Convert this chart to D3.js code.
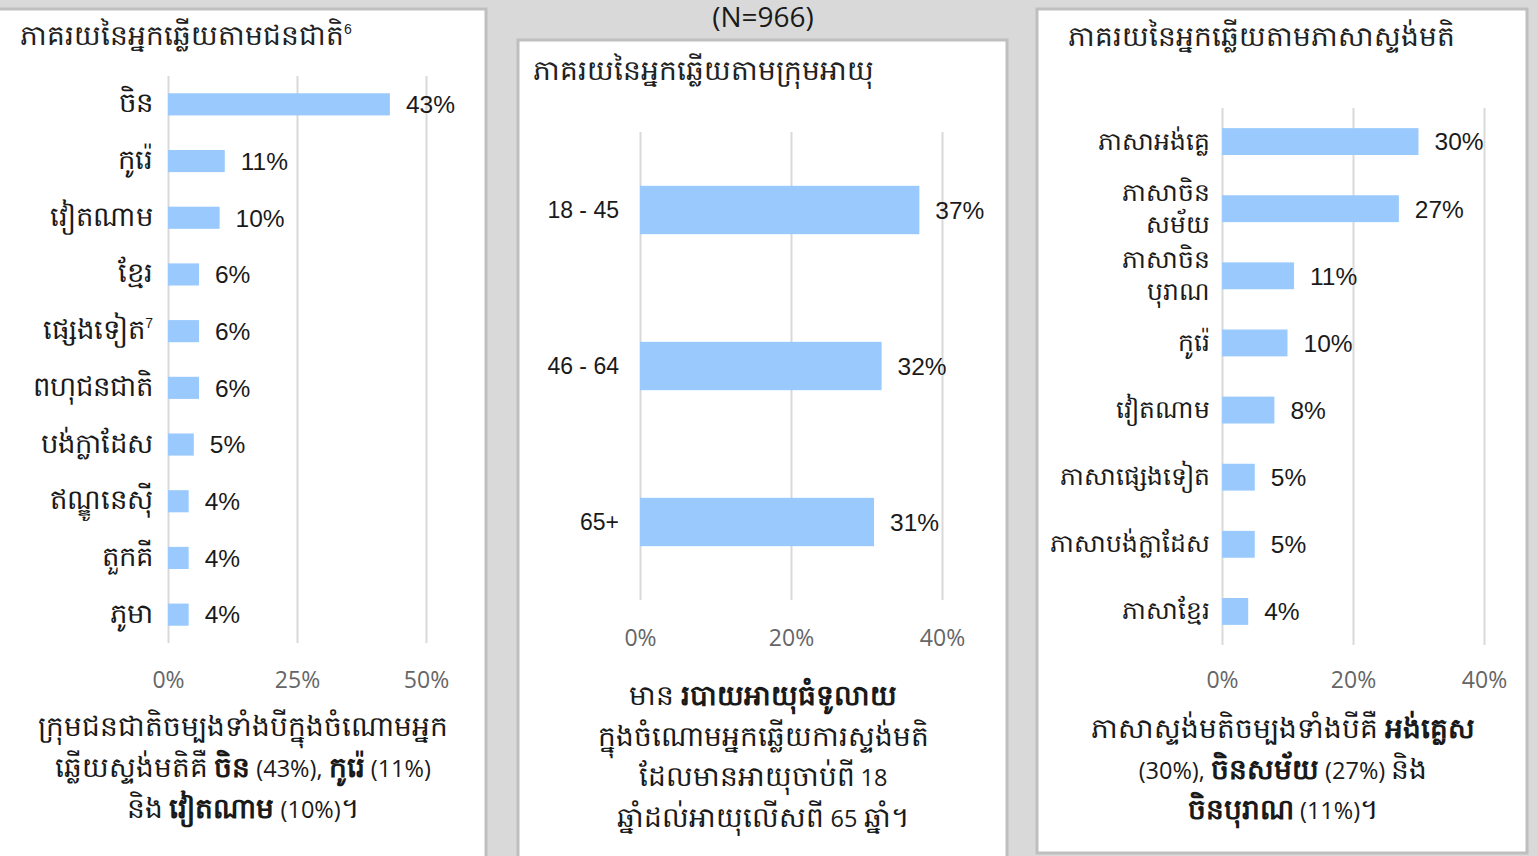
<!DOCTYPE html>
<html>
<head>
<meta charset="utf-8">
<script src="https://cdn.jsdelivr.net/npm/d3@7"></script>
<style>
  body { margin: 0; background: #d9d9d9; }
  svg { display: block; }
</style>
</head>
<body>
<svg id="chart" width="1538" height="856"></svg>
<script>
// ethnicity panel
var ethnicityLabels = ["ចិន", "កូរ៉េ", "វៀតណាម", "ខ្មែរ", "ផ្សេងទៀត", "ពហុជនជាតិ", "បង់ក្លាដែស", "ឥណ្ឌូនេស៊ី", "តួកគី", "ភូមា"]
var ethnicityValues = [43, 11, 10, 6, 6, 6, 5, 4, 4, 4]
var ethnicityTicks = [0, 25, 50]

// age panel
var ageLabels = ["18 - 45", "46 - 64", "65+"]
var ageValues = [37, 32, 31]
var ageTicks = [0, 20, 40]

// language panel
var languageLabels = ["ភាសាអង់គ្លេ", "ភាសាចិន\nសម័យ", "ភាសាចិន\nបុរាណ", "កូរ៉េ", "វៀតណាម", "ភាសាផ្សេងទៀត", "ភាសាបង់ក្លាដែស", "ភាសាខ្មែរ"]
var languageValues = [30, 27, 11, 10, 8, 5, 5, 4]
var languageTicks = [0, 20, 40]

var sampleSize = "(N=966)"

var titles = ["ភាគរយនៃអ្នកឆ្លើយតាមជនជាតិ", "ភាគរយនៃអ្នកឆ្លើយតាមក្រុមអាយុ", "ភាគរយនៃអ្នកឆ្លើយតាមភាសាស្ទង់មតិ"]

// captions: each line is a list of [text, bold]
var ethnicityCaption = [
  [["ក្រុមជនជាតិចម្បងទាំងបីក្នុងចំណោមអ្នក", false]],
  [["ឆ្លើយស្ទង់មតិគឺ ", false], ["ចិន", true], [" (43%), ", false], ["កូរ៉េ", true], [" (11%)", false]],
  [["និង ", false], ["វៀតណាម", true], [" (10%)។", false]]
]
var ageCaption = [
  [["មាន ", false], ["របាយអាយុធំទូលាយ", true]],
  [["ក្នុងចំណោមអ្នកឆ្លើយការស្ទង់មតិ", false]],
  [["ដែលមានអាយុចាប់ពី 18", false]],
  [["ឆ្នាំដល់អាយុលើសពី 65 ឆ្នាំ។", false]]
]
var languageCaption = [
  [["ភាសាស្ទង់មតិចម្បងទាំងបីគឺ ", false], ["អង់គ្លេស", true]],
  [["(30%), ", false], ["ចិនសម័យ", true], [" (27%) និង", false]],
  [["ចិនបុរាណ", true], [" (11%)។", false]]
]

var barColor = "#99c9fd"
var gridColor = "#d9d9d9"
var labelFont = "'Liberation Sans', Arial, sans-serif"
var captionFont = "'Open Sans', 'Noto Sans', sans-serif"

var svg = d3.select("#chart")

// Khmer glyphs come out narrower than in the original, so Khmer runs get a bigger size
function addRuns(sel, str, khmerSize, latinSize, bold) {
  str.split(/([\u1780-\u17FF\u19E0-\u19FF]+)/).forEach(function(s) {
    if (!s) return
    var khmer = /[\u1780-\u17FF]/.test(s)
    sel.append("tspan")
      .attr("font-size", khmer ? khmerSize : latinSize)
      .attr("font-weight", bold ? "bold" : "normal")
      .text(s)
  })
}

svg.append("text")
  .attr("x", 763)
  .attr("y", 27)
  .attr("text-anchor", "middle")
  .attr("font-family", captionFont)
  .attr("font-size", 28)
  .attr("fill", "#1a1a1a")
  .text(sampleSize)

function drawPanel(p) {
  var g = svg.append("g")

  g.append("rect")
    .attr("x", p.box[0])
    .attr("y", p.box[1])
    .attr("width", p.box[2])
    .attr("height", p.box[3])
    .attr("fill", "#fff")
    .attr("stroke", "#bfbfbf")
    .attr("stroke-width", 3)

  var title = g.append("text")
    .attr("x", p.titleX)
    .attr("y", p.titleY)
    .attr("font-family", labelFont)
    .attr("fill", "#222")
  addRuns(title, p.title, 28, 23, false)
  if (p.titleSup) {
    title.append("tspan")
      .attr("dy", -11)
      .attr("font-size", 14)
      .text(p.titleSup)
  }

  var x = d3.scaleLinear()
    .domain([0, p.ticks[p.ticks.length - 1]])
    .range([p.x0, p.x1])
  var y = d3.scaleBand()
    .domain(p.labels)
    .range([p.y0, p.y1])
    .paddingInner(p.pad)
    .paddingOuter(p.pad / 2)

  // grid lines through the axis generator
  var grid = g.append("g")
    .attr("transform", "translate(0," + p.y1 + ")")
    .call(d3.axisBottom(x).tickValues(p.ticks).tickSize(-(p.y1 - p.y0)).tickFormat(""))
  grid.select(".domain").remove()
  grid.selectAll(".tick line").attr("stroke", gridColor).attr("stroke-width", 2)

  var ticks = g.append("g")
    .attr("transform", "translate(0," + p.tickY + ")")
    .call(d3.axisBottom(x).tickValues(p.ticks).tickSize(0).tickFormat(function(d) { return d + "%" }))
  ticks.select(".domain").remove()
  ticks.selectAll("text")
    .attr("font-family", captionFont)
    .attr("font-size", 23)
    .attr("fill", "#666")
    .attr("dy", 0)

  g.selectAll(".bar")
    .data(p.values)
    .enter()
    .append("rect")
    .attr("x", x(0))
    .attr("y", function(d, i) { return y(p.labels[i]) })
    .attr("width", function(d) { return x(d) - x(0) })
    .attr("height", y.bandwidth())
    .attr("fill", barColor)

  g.selectAll(".val")
    .data(p.values)
    .enter()
    .append("text")
    .attr("x", function(d) { return x(d) + 16 })
    .attr("y", function(d, i) { return y(p.labels[i]) + y.bandwidth() / 2 })
    .attr("dy", "0.36em")
    .attr("font-family", labelFont)
    .attr("font-size", 24.5)
    .attr("fill", "#1a1a1a")
    .text(function(d) { return d + "%" })

  var cat = g.selectAll(".cat")
    .data(p.labels)
    .enter()
    .append("text")
    .attr("text-anchor", "end")
    .attr("font-family", labelFont)
    .attr("fill", "#1a1a1a")
    .attr("y", function(d) { return y(d) + y.bandwidth() / 2 })
  cat.each(function(d) {
    var lines = d.split("\n")
    var t = d3.select(this)
    lines.forEach(function(l, i) {
      var parts = l.split("^")
      var line = t.append("tspan")
        .attr("x", p.catX)
        .attr("dy", i === 0 ? (8 - (lines.length - 1) * 16) : 32)
      addRuns(line, parts[0], p.catSize, 23, false)
      if (parts[1]) {
        t.append("tspan").attr("dy", -11).attr("font-size", 14).text(parts[1])
      }
    })
  })

  p.caption.forEach(function(line, i) {
    var t = g.append("text")
      .attr("x", p.capX)
      .attr("y", p.capY + i * p.capStep)
      .attr("text-anchor", "middle")
      .attr("font-family", captionFont)
      .attr("fill", "#1a1a1a")
    line.forEach(function(seg) {
      addRuns(t, seg[0], 28, 23.5, seg[1])
    })
  })
}

var ethLabels = ethnicityLabels.map(function(d) { return d === "ផ្សេងទៀត" ? d + "^7" : d })

drawPanel({
  box: [-5, 9, 491, 860], title: titles[0], titleSup: "6", titleX: 20, titleY: 45,
  labels: ethLabels, values: ethnicityValues, ticks: ethnicityTicks,
  x0: 168, x1: 426, y0: 76, y1: 643, pad: 0.61, catX: 153, catSize: 27.5,
  tickY: 685, caption: ethnicityCaption, capX: 243, capY: 736, capStep: 41
})

drawPanel({
  box: [518, 40, 489, 830], title: titles[1], titleX: 533, titleY: 80,
  labels: ageLabels, values: ageValues, ticks: ageTicks,
  x0: 640, x1: 942, y0: 132, y1: 600, pad: 0.69, catX: 619, catSize: 27,
  tickY: 643, caption: ageCaption, capX: 763, capY: 705, capStep: 40.5
})

drawPanel({
  box: [1037, 9, 490, 844], title: titles[2], titleX: 1068, titleY: 46,
  labels: languageLabels, values: languageValues, ticks: languageTicks,
  x0: 1222, x1: 1484, y0: 108, y1: 645, pad: 0.6, catX: 1210, catSize: 25,
  tickY: 685, caption: languageCaption, capX: 1283, capY: 738, capStep: 40.5
})
</script>
</body>
</html>
